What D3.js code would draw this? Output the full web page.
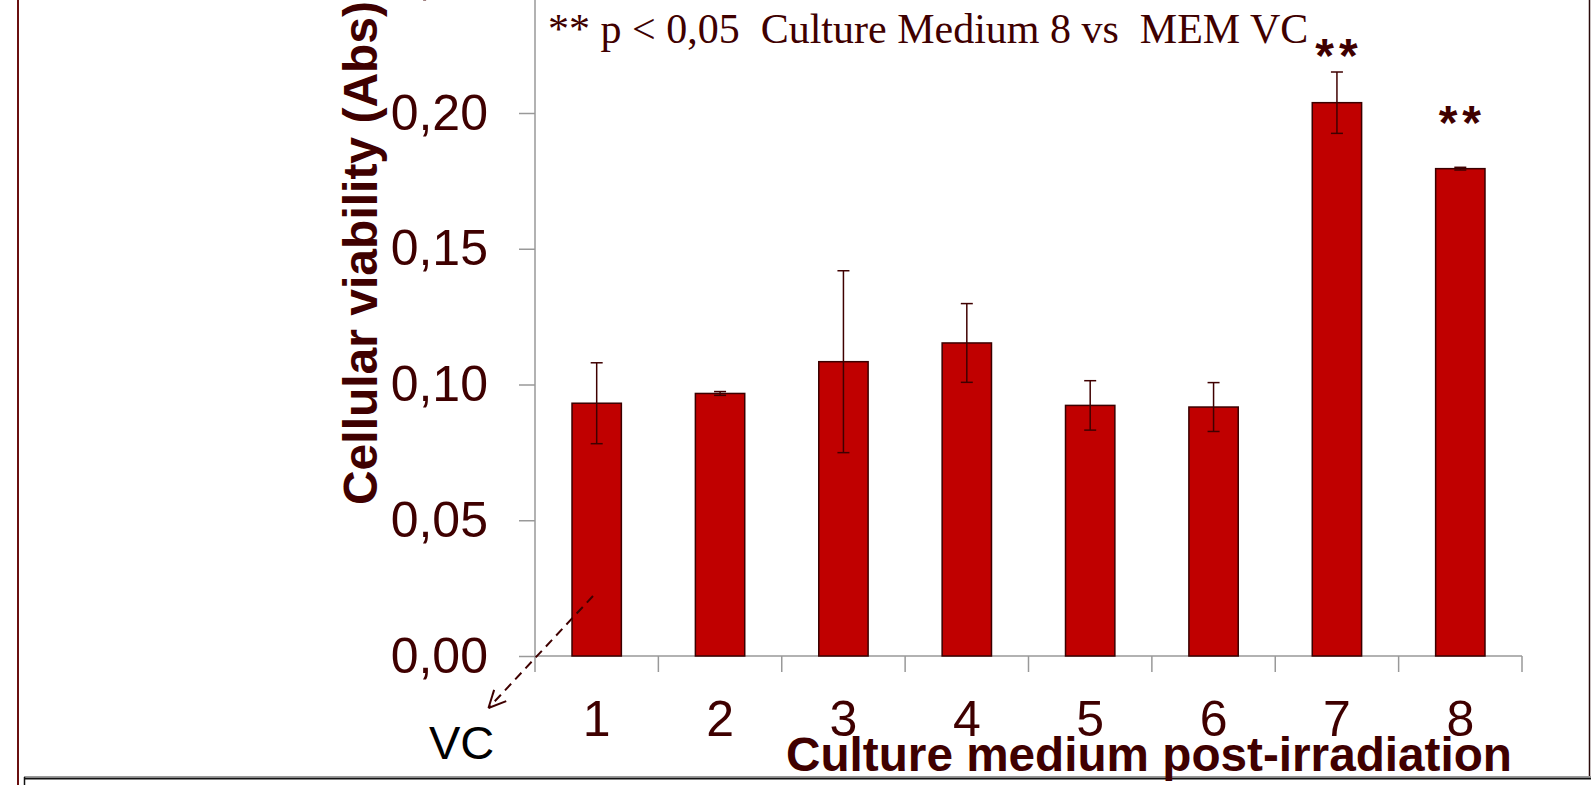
<!DOCTYPE html>
<html>
<head>
<meta charset="utf-8">
<script src="https://cdn.jsdelivr.net/npm/d3@7"></script>
<style>
    html, body { margin: 0; padding: 0; background: #fff; overflow: hidden; }
    svg { display: block; }
</style>
</head>
<body>
<div id="chart"></div>
<script>
// Culture media 1..8, mean absorbance and error
const categories = ['1', '2', '3', '4', '5', '6', '7', '8'];
const means = [0.0931, 0.0967, 0.1084, 0.1153, 0.0923, 0.0917, 0.2038, 0.1795];
const errors = [0.0149, 0.0007, 0.0335, 0.0145, 0.0091, 0.0090, 0.0113, 0.0005];
const yTicks = [0, 0.05, 0.10, 0.15, 0.20, 0.25];
// significance marks: category and text baseline value
const sigCats = ['7', '8'];
const sigLevels = [0.2150, 0.1905];

const W = 1591, H = 785;
const dark = '#3f0000';

const svg = d3.select('#chart')
    .append('svg')
    .attr('width', W)
    .attr('height', H);

// plot area: y axis at x=535, zero line at y=656
const left = 535, right = 1522, zeroY = 656;
const pxPerUnit = 2715;

const x = d3.scaleBand()
    .domain(categories)
    .range([left, right])
    .paddingInner(0.6)
    .paddingOuter(0.3);

const y = d3.scaleLinear()
    .domain([0, 0.25])
    .range([zeroY, zeroY - 0.25 * pxPerUnit]);

// category boundary positions for the x tick marks
const slot = d3.scaleLinear().domain([0, categories.length]).range([left, right]);

// outer frame lines
svg.append('line')
    .attr('x1', 18).attr('x2', 18).attr('y1', 0).attr('y2', H)
    .attr('stroke', '#6a1010').attr('stroke-width', 2);
svg.append('line')
    .attr('x1', 1589.5).attr('x2', 1589.5).attr('y1', 0).attr('y2', 777)
    .attr('stroke', '#2a0a0a').attr('stroke-width', 1.5);
svg.append('line')
    .attr('x1', 24).attr('x2', W).attr('y1', 776.5).attr('y2', 776.5)
    .attr('stroke', '#9a9a9a').attr('stroke-width', 1);
svg.append('line')
    .attr('x1', 24).attr('x2', W).attr('y1', 778.5).attr('y2', 778.5)
    .attr('stroke', '#111').attr('stroke-width', 2);
svg.append('line')
    .attr('x1', 24.5).attr('x2', 24.5).attr('y1', 777).attr('y2', H)
    .attr('stroke', '#111').attr('stroke-width', 1.5);

// Y axis
const yAxis = d3.axisLeft(y)
    .tickValues(yTicks)
    .tickSize(16)
    .tickPadding(31)
    .tickFormat(d => d3.format('.2f')(d).replace('.', ','));

const gy = svg.append('g')
    .attr('transform', `translate(${left},0)`)
    .call(yAxis);
gy.select('.domain').remove();
gy.append('line')
    .attr('x1', 0).attr('x2', 0)
    .attr('y1', 0).attr('y2', zeroY)
    .attr('stroke', '#999').attr('stroke-width', 1.5);
gy.selectAll('.tick line').attr('stroke', '#999').attr('stroke-width', 1.5);
gy.selectAll('.tick text')
    .attr('font-family', 'Liberation Sans, Arial, sans-serif')
    .attr('font-size', 50)
    .attr('fill', dark);

// X axis line and boundary ticks
svg.append('line')
    .attr('x1', left).attr('x2', right)
    .attr('y1', zeroY).attr('y2', zeroY)
    .attr('stroke', '#999').attr('stroke-width', 1.5);
svg.append('g')
    .selectAll('line')
    .data(d3.range(categories.length + 1))
    .join('line')
    .attr('x1', d => slot(d)).attr('x2', d => slot(d))
    .attr('y1', zeroY).attr('y2', zeroY + 16)
    .attr('stroke', '#999').attr('stroke-width', 1.5);

const xAxis = d3.axisBottom(x).tickSize(0).tickPadding(44);
const gx = svg.append('g')
    .attr('transform', `translate(0,${zeroY})`)
    .call(xAxis);
gx.select('.domain').remove();
gx.selectAll('.tick text')
    .attr('font-family', 'Liberation Sans, Arial, sans-serif')
    .attr('font-size', 50)
    .attr('fill', dark);

// Bars
svg.append('g')
    .selectAll('rect')
    .data(categories)
    .join('rect')
    .attr('x', d => x(d))
    .attr('width', x.bandwidth())
    .attr('y', (d, i) => y(means[i]))
    .attr('height', (d, i) => y(0) - y(means[i]))
    .attr('fill', '#c00000')
    .attr('stroke', '#3a0000')
    .attr('stroke-width', 1.5);

// Error bars
const eb = svg.append('g')
    .selectAll('g')
    .data(categories)
    .join('g')
    .attr('transform', d => `translate(${x(d) + x.bandwidth() / 2},0)`);
eb.append('line')
    .attr('y1', (d, i) => y(means[i] + errors[i]))
    .attr('y2', (d, i) => y(means[i] - errors[i]))
    .attr('stroke', dark).attr('stroke-width', 1.5);
eb.append('line')
    .attr('x1', -6).attr('x2', 6)
    .attr('y1', (d, i) => y(means[i] + errors[i]))
    .attr('y2', (d, i) => y(means[i] + errors[i]))
    .attr('stroke', dark).attr('stroke-width', 1.5);
eb.append('line')
    .attr('x1', -6).attr('x2', 6)
    .attr('y1', (d, i) => y(means[i] - errors[i]))
    .attr('y2', (d, i) => y(means[i] - errors[i]))
    .attr('stroke', dark).attr('stroke-width', 1.5);

// Significance asterisks
svg.append('g')
    .selectAll('text')
    .data(sigCats)
    .join('text')
    .attr('x', d => x(d) + x.bandwidth() / 2 + 2)
    .attr('y', (d, i) => y(sigLevels[i]))
    .attr('text-anchor', 'middle')
    .attr('font-family', 'Liberation Sans, Arial, sans-serif')
    .attr('font-size', 48)
    .attr('font-weight', 'bold')
    .attr('letter-spacing', 5)
    .attr('fill', dark)
    .text('**');

// Annotation
svg.append('text')
    .attr('x', 548)
    .attr('y', 43)
    .attr('font-family', 'Liberation Serif, Times New Roman, serif')
    .attr('font-size', 42)
    .attr('fill', dark)
    .attr('xml:space', 'preserve')
    .style('white-space', 'pre')
    .text('** p < 0,05  Culture Medium 8 vs  MEM VC');

// Axis titles
svg.append('text')
    .attr('transform', 'translate(377,253) rotate(-90)')
    .attr('text-anchor', 'middle')
    .attr('font-family', 'Liberation Sans, Arial, sans-serif')
    .attr('font-size', 48)
    .attr('font-weight', 'bold')
    .attr('fill', dark)
    .text('Cellular viability (Abs)');

svg.append('text')
    .attr('x', 1149)
    .attr('y', 771)
    .attr('text-anchor', 'middle')
    .attr('font-family', 'Liberation Sans, Arial, sans-serif')
    .attr('font-size', 47.7)
    .attr('font-weight', 'bold')
    .attr('fill', dark)
    .text('Culture medium post-irradiation');

// VC label with dashed arrow
svg.append('text')
    .attr('x', 429)
    .attr('y', 759)
    .attr('font-family', 'Liberation Sans, Arial, sans-serif')
    .attr('font-size', 47)
    .attr('fill', '#000')
    .text('VC');

const arrowFrom = [593, 596], arrowTo = [488.5, 708];
svg.append('line')
    .attr('x1', arrowFrom[0]).attr('y1', arrowFrom[1])
    .attr('x2', arrowTo[0]).attr('y2', arrowTo[1])
    .attr('stroke', dark).attr('stroke-width', 2)
    .attr('stroke-dasharray', '9,6');
const ang = Math.atan2(arrowFrom[1] - arrowTo[1], arrowFrom[0] - arrowTo[0]);
[-0.45, 0.45].forEach(da => {
    svg.append('line')
        .attr('x1', arrowTo[0]).attr('y1', arrowTo[1])
        .attr('x2', arrowTo[0] + 19 * Math.cos(ang + da))
        .attr('y2', arrowTo[1] + 19 * Math.sin(ang + da))
        .attr('stroke', dark).attr('stroke-width', 2);
});
</script>
</body>
</html>
